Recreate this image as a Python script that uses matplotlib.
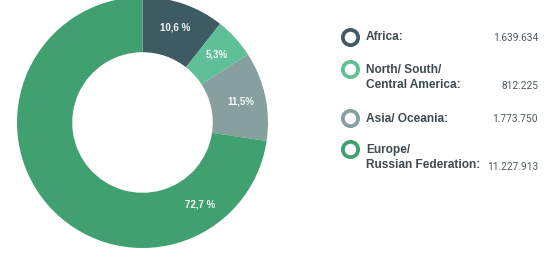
import numpy as np
import matplotlib
matplotlib.use("Agg")
import matplotlib.pyplot as plt

regions = ["Africa:", "North/ South/\nCentral America:", "Asia/ Oceania:", "Europe/\nRussian Federation:"]
counts = [1639634, 812225, 1773750, 11227913]
pct_labels = ["10,6 %", "5,3%", "11,5%", "72,7 %"]
count_labels = ["1.639.634", "812.225", "1.773.750", "11.227.913"]
colors = ["#3e5b63", "#5fbf96", "#879f9f", "#40a06f"]

W, H = 551, 260
fig = plt.figure(figsize=(W / 100, H / 100), dpi=100)

# donut axes, square in pixels, slightly cut at the top
cx, cy, R = 142.5, 137.5, 125.5
ax = fig.add_axes([(cx - R) / W, (cy - R) / H, 2 * R / W, 2 * R / H])
wedges, _ = ax.pie(counts, colors=colors, startangle=90, counterclock=False,
                   radius=1.0, wedgeprops=dict(width=0.44, edgecolor="none"))
ax.set_xlim(-1, 1)
ax.set_ylim(-1, 1)
ax.set_aspect("equal")
ax.axis("off")

# percentage labels inside the ring
for i, w in enumerate(wedges):
    ang = (w.theta1 + w.theta2) / 2
    if i == 3:
        ang = -55  # big slice label sits lower right
    r = 0.80
    ax.text(r * np.cos(np.radians(ang)), r * np.sin(np.radians(ang)), pct_labels[i],
            ha="center", va="center", color="#f4f7f6", fontsize=7,
            family="Liberation Sans", fontweight="bold")

# legend on the right
def px(x, y):
    return x / W, 1 - y / H

marker_y = [37, 69, 118, 149]
text_base = [40, 73, 122, 153]
num_base = [41, 89, 122, 170]
line_gap = 15.5
for i in range(len(regions)):
    mx, my = px(350, marker_y[i])
    fig.lines.append(plt.Line2D([mx], [my], transform=fig.transFigure, marker="o",
                                markersize=11, markerfacecolor="white",
                                markeredgecolor=colors[i], markeredgewidth=2.7))
    for k, line in enumerate(regions[i].split("\n")):
        tx, ty = px(366, text_base[i] + k * line_gap)
        fig.text(tx, ty, line, ha="left", va="baseline", fontsize=8.6,
                 family="Liberation Sans", fontweight="bold", color="#3d4b50")
    nx, ny = px(538, num_base[i])
    fig.text(nx, ny, count_labels[i], ha="right", va="baseline", fontsize=7.3,
             family="Roboto", color="#4f5a5e")

fig.savefig("out.png", dpi=100, facecolor="white")
